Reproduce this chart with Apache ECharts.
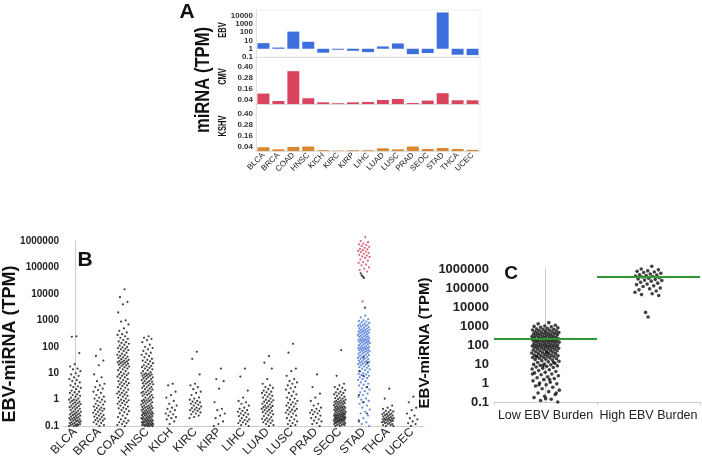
<!DOCTYPE html>
<html><head><meta charset="utf-8">
<script src="https://cdn.jsdelivr.net/npm/echarts@6/dist/echarts.min.js"></script>
<style>html,body{margin:0;padding:0;background:#fff}#c{width:702px;height:461px}</style>
</head><body><div id="c"></div><script>
// ---------- Panel A ----------
const cancerTypes = ['BLCA','BRCA','COAD','HNSC','KICH','KIRC','KIRP','LIHC','LUAD','LUSC','PRAD','SEOC','STAD','THCA','UCEC'];
const ebvTPM  = [4.8,1.4,120,7,0.33,0.95,0.57,0.39,1.9,4.4,0.22,0.3,25000,0.19,0.17];
const cmvTPM  = [0.112,0.032,0.353,0.062,0.018,0.008,0.018,0.022,0.043,0.054,0.011,0.037,0.116,0.04,0.04];
const kshvTPM = [0.04,0.018,0.043,0.048,0.008,0.004,0.008,0.008,0.029,0.018,0.048,0.022,0.032,0.022,0.012];
const aLogTicks = [0.1,1,10,100,1000,10000];
const aLinTicks = [0.04,0.16,0.28,0.40];
// ---------- Panel B (EBV-miRNA TPM per sample) ----------
const bTicks = [0.1,1,10,100,1000,10000,100000,1000000];
const bBLCA = [250,240,58,22,18,15,14,12,10,9,8,7,6,5.5,5,4.5,4,3.5,3.2,3,2.8,2.5,2.2,2,1.9,1.8,1.6,1.5,1.4,1.3,1.2,1.1,1,1,0.95,0.9,0.85,0.8,0.78,0.75,0.7,0.68,0.65,0.6,0.58,0.55,0.52,0.5,0.48,0.45,0.43,0.4,0.38,0.36,0.35,0.33,0.32,0.3,0.29,0.28,0.27,0.26,0.25,0.24,0.23,0.22,0.21,0.2,0.2,0.19,0.18,0.18,0.17,0.16,0.16,0.15,0.15,0.14,0.14,0.13,0.13,0.12,0.12,0.12,0.11,0.11,0.11,0.1,0.1,0.1];
const bBRCA = [80,45,30,20,9,7,5,4,3.5,3,2.6,2.3,2,1.8,1.5,1.3,1.2,1.1,1,0.9,0.85,0.8,0.7,0.65,0.6,0.55,0.5,0.48,0.45,0.42,0.4,0.38,0.35,0.32,0.3,0.28,0.26,0.25,0.23,0.22,0.2,0.19,0.18,0.17,0.16,0.15,0.14,0.13,0.12,0.11,0.1];
const bCOAD = [15000,7500,5000,4000,2000,1000,900,700,500,400,350,300,280,250,220,200,180,160,150,140,130,120,110,100,95,90,85,80,75,70,65,60,55,50,48,45,42,40,38,36,34,32,30,29,28,27,26,25,24,23,22,21,20,19,18,17,16,15,14,13,12,11,10,9.5,9,8.5,8,7.5,7,6.5,6,5.5,5,4.8,4.5,4.2,4,3.8,3.5,3.3,3,2.8,2.6,2.4,2.2,2,1.9,1.8,1.7,1.6,1.5,1.4,1.3,1.2,1.1,1,0.95,0.9,0.85,0.8,0.75,0.7,0.65,0.6,0.55,0.5,0.47,0.44,0.4,0.37,0.34,0.31,0.28,0.25,0.22,0.2,0.18,0.16,0.15,0.14,0.13,0.12,0.11,0.1];
const bHNSC = [250,220,200,180,150,120,100,90,80,70,60,55,50,45,40,35,32,30,28,26,24,22,20,19,18,17,16,15,14,13,12,11,10,10,9.5,9,9,8.5,8,8,7.5,7,7,6.5,6,6,5.5,5,5,4.8,4.5,4.2,4,4,3.8,3.5,3.3,3,3,2.8,2.6,2.5,2.4,2.2,2,2,1.9,1.8,1.7,1.6,1.5,1.5,1.4,1.3,1.2,1.2,1.1,1,1,0.95,0.9,0.9,0.85,0.8,0.8,0.75,0.7,0.7,0.65,0.6,0.6,0.58,0.55,0.52,0.5,0.5,0.48,0.46,0.44,0.42,0.4,0.4,0.38,0.36,0.35,0.34,0.33,0.32,0.31,0.3,0.3,0.29,0.28,0.27,0.26,0.25,0.25,0.24,0.23,0.22,0.22,0.21,0.2,0.2,0.19,0.19,0.18,0.18,0.17,0.17,0.16,0.16,0.15,0.15,0.15,0.14,0.14,0.14,0.13,0.13,0.13,0.12,0.12,0.12,0.12,0.11,0.11,0.11,0.11,0.1,0.1,0.1,0.1];
const bKICH = [4,3.5,2,1.5,1.2,0.9,0.7,0.6,0.5,0.45,0.4,0.35,0.3,0.28,0.25,0.22,0.2,0.18,0.15,0.12];
const bKIRC = [65,35,9,4,3.5,3,2.5,2,1.8,1.5,1.2,1.1,1,0.9,0.85,0.8,0.75,0.7,0.65,0.6,0.55,0.5,0.48,0.45,0.42,0.4,0.38,0.35,0.33,0.3,0.28,0.25,0.22,0.2];
const bKIRP = [15,6,5,2.6,0.8,0.45,0.4,0.3,0.25,0.2,0.15,0.12,0.1];
const bLIHC = [15,7.5,2.2,1.2,0.9,0.8,0.7,0.6,0.5,0.45,0.4,0.38,0.35,0.32,0.3,0.28,0.26,0.24,0.22,0.2,0.18,0.17,0.16,0.15,0.14,0.13,0.12,0.11,0.1];
const bLUAD = [44,25,15,6,4,3.5,3,2.8,2.5,2.2,2,1.9,1.8,1.6,1.5,1.4,1.3,1.2,1.1,1,0.95,0.9,0.85,0.8,0.75,0.7,0.65,0.6,0.58,0.55,0.52,0.5,0.48,0.45,0.42,0.4,0.38,0.36,0.34,0.32,0.3,0.28,0.26,0.24,0.22,0.2,0.19,0.18,0.17,0.16,0.15,0.14,0.13,0.12,0.11,0.1];
const bLUSC = [130,60,15,12,8,6,5,4.5,4,3.5,3,2.7,2.4,2,1.8,1.6,1.4,1.2,1.1,1,0.9,0.8,0.75,0.7,0.65,0.6,0.55,0.5,0.45,0.42,0.4,0.38,0.35,0.32,0.3,0.28,0.25,0.22,0.2,0.18,0.16,0.15,0.13,0.12,0.11,0.1];
const bPRAD = [9,3,1.7,1.2,0.9,0.7,0.6,0.5,0.45,0.4,0.38,0.35,0.32,0.3,0.28,0.25,0.22,0.2,0.18,0.16,0.15,0.13,0.12,0.1];
const bSEOC = [75,8,4,3.5,3,2.8,2.5,2.3,2,1.9,1.8,1.7,1.6,1.5,1.4,1.3,1.2,1.15,1.1,1.05,1,0.95,0.9,0.88,0.85,0.82,0.8,0.77,0.75,0.72,0.7,0.68,0.65,0.63,0.6,0.58,0.56,0.55,0.53,0.52,0.5,0.49,0.48,0.46,0.45,0.44,0.42,0.41,0.4,0.39,0.38,0.37,0.36,0.35,0.34,0.33,0.32,0.31,0.3,0.3,0.29,0.28,0.28,0.27,0.26,0.26,0.25,0.25,0.24,0.24,0.23,0.23,0.22,0.22,0.21,0.21,0.2,0.2,0.2,0.19,0.19,0.18,0.18,0.18,0.17,0.17,0.17,0.16,0.16,0.16,0.15,0.15,0.15,0.14,0.14,0.14,0.13,0.13,0.13,0.12,0.12,0.12,0.11,0.11,0.11,0.1,0.1];
const bTHCA = [2.6,1.1,0.6,0.5,0.45,0.4,0.38,0.36,0.34,0.32,0.3,0.29,0.28,0.27,0.26,0.25,0.24,0.23,0.22,0.21,0.2,0.2,0.19,0.19,0.18,0.18,0.17,0.17,0.16,0.16,0.15,0.15,0.14,0.14,0.13,0.13,0.12,0.12,0.11,0.11,0.1,0.1];
const bUCEC = [1.3,0.8,0.5,0.4,0.3,0.25,0.2,0.18,0.15,0.13,0.12,0.1];
// STAD split by EBV burden (red = high burden, blue = low burden, black = other)
const stadHighRed = [1400000,1000000,900000,800000,750000,700000,650000,600000,550000,500000,480000,450000,420000,400000,380000,350000,330000,300000,280000,260000,250000,230000,200000,180000,160000,150000,130000,120000,100000,90000,80000,70000,5200];
const stadHighBlack = [60000,50000,45000,40000,3000];
const stadLowBlue = [1500,1300,1100,1000,950,900,850,800,750,700,680,650,620,600,580,550,520,500,480,460,450,430,420,400,390,380,360,350,340,330,320,300,290,280,270,260,250,245,240,230,220,210,200,195,190,185,180,175,170,165,160,155,150,145,140,135,130,125,120,115,110,105,100,98,95,92,90,88,85,82,80,78,75,72,70,68,65,62,60,58,55,52,50,48,46,44,42,40,38,36,35,34,32,30,29,28,27,26,25,24,23,22,21,20,19,18,17,16,15,14,13,12,11,10,9.5,9,8.5,8,7.5,7,6.5,6,5.5,5,4.5,4,3.7,3.4,3,2.7,2.4,2.1,1.9,1.7,1.5,1.3,1.1,1,0.9,0.8,0.7,0.6,0.5,0.42,0.35,0.3,0.25,0.2,0.17,0.14,0.12,0.1];
const stadLowBlack = [40,25,12,8,3,1.5,0.8,0.3,0.15];
// ---------- Panel C ----------
const burdenGroups = ['Low EBV Burden','High EBV Burden'];
const lowMedian = 210;
const highMedian = 380000;

const blackByType = [bBLCA,bBRCA,bCOAD,bHNSC,bKICH,bKIRC,bKIRP,bLIHC,bLUAD,bLUSC,bPRAD,bSEOC,null,bTHCA,bUCEC];
const STAD = 12;
const jit = (i, w) => ((((i + 1) * 0.6180339887) % 1) - 0.5) * w;

const blackPts = [];
blackByType.forEach((arr, ci) => { if (arr) arr.forEach((v, i) => blackPts.push([ci + jit(i, 0.5), v])); });
stadLowBlack.forEach((v, i) => blackPts.push([STAD + jit(i * 7 + 3, 0.5), v]));
stadHighBlack.forEach((v, i) => blackPts.push([STAD + jit(i * 5 + 1, 0.5), v]));
const bluePts = stadLowBlue.map((v, i) => [STAD + jit(i, 0.5), v]);
const redPts = stadHighRed.map((v, i) => [STAD + jit(i, 0.5), v]);

const lowAll = stadLowBlue.concat(stadLowBlack);
const highAll = stadHighRed.concat(stadHighBlack);
const cPts = lowAll.map((v, i) => [0 + jit(i, 0.27), v]).concat(highAll.map((v, i) => [1 + jit(i, 0.27), v]));

const FONT = "'Liberation Sans', Arial, sans-serif";
const cBlue = '#3d6fdc', cRed = '#d9455f', cOrange = '#d9862e';

const A_LEFT = 256, A_W = 224;
function ebvRender(params, api) {
  const x = api.value(0), v = api.value(1);
  const p1 = api.coord([x, 1]), p2 = api.coord([x, v]);
  const bw = (api.coord([1, 1])[0] - api.coord([0, 1])[0]) * 0.8;
  const top = Math.min(p1[1], p2[1]);
  const h = Math.max(Math.abs(p1[1] - p2[1]), 1);
  return { type: 'rect', shape: { x: p1[0] - bw / 2, y: top, width: bw, height: h }, style: { fill: cBlue } };
}

const smallY = (gi, extra) => Object.assign({
  gridIndex: gi, type: 'value', min: 0, max: 0.5,
  axisLine: { show: true, lineStyle: { color: '#ddd', type: 'dotted' } },
  axisTick: { show: false }, splitLine: { show: false },
  axisLabel: { customValues: aLinTicks, formatter: v => v.toFixed(2), fontSize: 8, fontWeight: 'bold', color: '#333', margin: 3, fontFamily: FONT }
}, extra || {});
const smallX = (gi, showLabel) => ({
  gridIndex: gi, type: 'category', data: cancerTypes,
  axisLine: { show: true, lineStyle: { color: '#ddd' } }, axisTick: { show: false },
  axisLabel: { show: showLabel, rotate: 45, fontSize: 8, color: '#222', margin: 3, interval: 0, fontFamily: FONT }
});

const option = {
  animation: false,
  grid: [
    { left: A_LEFT, top: 10, width: A_W, height: 47, show: true, borderColor: '#f0f0f0', borderWidth: 1 },
    { left: A_LEFT, top: 57.5, width: A_W, height: 46.5, show: true, borderColor: '#f0f0f0', borderWidth: 1 },
    { left: A_LEFT, top: 104.5, width: A_W, height: 46.5, show: true, borderColor: '#f0f0f0', borderWidth: 1 },
    { left: 63, top: 241, width: 361, height: 196.5 },
    { left: 494, top: 269, width: 206, height: 133 }
  ],
  xAxis: [
    smallX(0, false), smallX(1, false), smallX(2, true),
    { gridIndex: 3, type: 'category', data: cancerTypes,
      axisLine: { lineStyle: { color: '#ccc' } }, axisTick: { show: false },
      axisLabel: { rotate: 45, interval: 0, fontSize: 12, color: '#222', margin: 4, fontFamily: FONT } },
    { gridIndex: 3, type: 'value', min: -0.5, max: 14.5, show: false },
    { gridIndex: 4, type: 'category', data: burdenGroups,
      axisLine: { lineStyle: { color: '#ccc' } }, axisTick: { show: true, length: 3, lineStyle: { color: '#ccc' } },
      axisLabel: { interval: 0, hideOverlap: false, fontSize: 12.5, color: '#222', margin: 7, fontFamily: FONT } },
    { gridIndex: 4, type: 'value', min: -0.5, max: 1.5, show: false }
  ],
  yAxis: [
    { gridIndex: 0, type: 'log', min: 0.1, max: 50000,
      axisLine: { show: true, lineStyle: { color: '#ddd', type: 'dotted' } }, axisTick: { show: false }, splitLine: { show: false },
      axisLabel: { customValues: aLogTicks, formatter: v => String(v), fontSize: 8, fontWeight: 'bold', color: '#333', margin: 3, fontFamily: FONT } },
    smallY(1), smallY(2),
    { gridIndex: 3, type: 'log', min: 0.1, max: 1000000,
      axisLine: { show: true, lineStyle: { color: '#ccc' } }, axisTick: { show: false }, splitLine: { show: false },
      axisLabel: { customValues: bTicks, formatter: v => String(v), fontSize: 10, fontWeight: 'bold', color: '#222', margin: 4, fontFamily: FONT } },
    { gridIndex: 4, type: 'log', min: 0.1, max: 1000000,
      axisLine: { show: true, lineStyle: { color: '#ccc' } }, axisTick: { show: false }, splitLine: { show: false },
      axisLabel: { customValues: bTicks, formatter: v => String(v), fontSize: 13, fontWeight: 'bold', color: '#222', margin: 5, fontFamily: FONT } }
  ],
  series: [
    { type: 'custom', xAxisIndex: 0, yAxisIndex: 0, renderItem: ebvRender, encode: { x: 0, y: 1 },
      data: cancerTypes.map((c, i) => [i, ebvTPM[i]]) },
    { type: 'bar', xAxisIndex: 1, yAxisIndex: 1, data: cmvTPM, barWidth: '80%', itemStyle: { color: cRed } },
    { type: 'bar', xAxisIndex: 2, yAxisIndex: 2, data: kshvTPM, barWidth: '80%', itemStyle: { color: cOrange } },
    { type: 'scatter', xAxisIndex: 4, yAxisIndex: 3, data: bluePts, symbolSize: 2.2, clip: false, itemStyle: { color: '#3f6fd6' } },
    { type: 'scatter', xAxisIndex: 4, yAxisIndex: 3, data: blackPts, symbolSize: 2.2, clip: false, itemStyle: { color: '#111' } },
    { type: 'scatter', xAxisIndex: 4, yAxisIndex: 3, data: redPts, symbolSize: 2.2, clip: false, itemStyle: { color: '#d23c5a' } },
    { type: 'scatter', xAxisIndex: 6, yAxisIndex: 4, data: cPts, symbolSize: 3.6, clip: false, itemStyle: { color: '#111' } },
    { type: 'line', xAxisIndex: 6, yAxisIndex: 4, data: [[-0.5, lowMedian], [0.5, lowMedian]], symbol: 'none', lineStyle: { color: '#2f9a34', width: 2 } },
    { type: 'line', xAxisIndex: 6, yAxisIndex: 4, data: [[0.5, highMedian], [1.5, highMedian]], symbol: 'none', lineStyle: { color: '#2f9a34', width: 2 } }
  ],
  graphic: [
    { type: 'text', x: 187, y: 12, style: { text: 'A', font: "bold 21px " + FONT, fill: '#111', align: 'center', verticalAlign: 'middle' } },
    { type: 'text', x: 203, y: 80, rotation: Math.PI / 2, scaleX: 0.83, style: { text: 'miRNA (TPM)', font: "bold 20px " + FONT, fill: '#111', align: 'center', verticalAlign: 'middle' } },
    { type: 'text', x: 223, y: 30, rotation: Math.PI / 2, scaleX: 0.75, style: { text: 'EBV', font: "bold 10px " + FONT, fill: '#111', align: 'center', verticalAlign: 'middle' } },
    { type: 'text', x: 223, y: 76.5, rotation: Math.PI / 2, scaleX: 0.75, style: { text: 'CMV', font: "bold 10px " + FONT, fill: '#111', align: 'center', verticalAlign: 'middle' } },
    { type: 'text', x: 223, y: 126, rotation: Math.PI / 2, scaleX: 0.75, style: { text: 'KSHV', font: "bold 10px " + FONT, fill: '#111', align: 'center', verticalAlign: 'middle' } },
    { type: 'text', x: 85, y: 260, style: { text: 'B', font: "bold 21px " + FONT, fill: '#111', align: 'center', verticalAlign: 'middle' } },
    { type: 'text', x: 10, y: 344, rotation: Math.PI / 2, style: { text: 'EBV-miRNA (TPM)', font: "bold 18px " + FONT, fill: '#111', align: 'center', verticalAlign: 'middle' } },
    { type: 'text', x: 511, y: 274, style: { text: 'C', font: "bold 19px " + FONT, fill: '#111', align: 'center', verticalAlign: 'middle' } },
    { type: 'text', x: 425, y: 343, rotation: Math.PI / 2, style: { text: 'EBV-miRNA (TPM)', font: "bold 15px " + FONT, fill: '#111', align: 'center', verticalAlign: 'middle' } }
  ]
};
echarts.init(document.getElementById('c')).setOption(option);
</script></body></html>
